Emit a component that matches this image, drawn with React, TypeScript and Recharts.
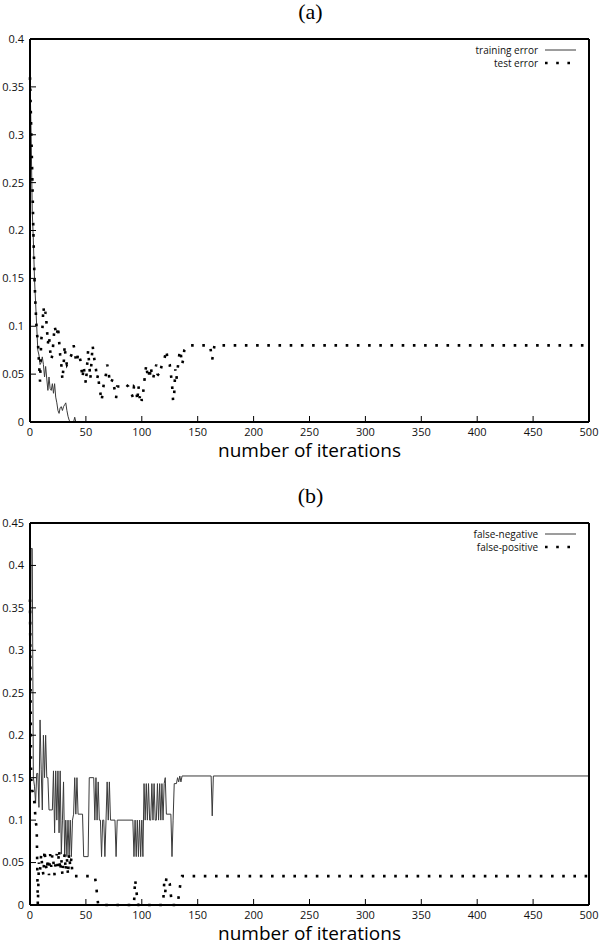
import { Line, LineChart, XAxis, YAxis } from "recharts";

// iteration ticks shared by both panels
const iterTicks = [0, 50, 100, 150, 200, 250, 300, 350, 400, 450, 500];
const errTicksA = [0, 0.05, 0.1, 0.15, 0.2, 0.25, 0.3, 0.35, 0.4];
const errTicksB = [0, 0.05, 0.1, 0.15, 0.2, 0.25, 0.3, 0.35, 0.4, 0.45];

// panel (a): [iteration, error]
const trainingError: [number, number][] = [
  [0, 0.36], [1, 0.3], [2, 0.22], [3, 0.19], [4, 0.15], [5, 0.125], [6, 0.1], [7, 0.075],
  [8, 0.07], [9, 0.06], [10, 0.062], [11, 0.068], [12, 0.06], [13, 0.047], [14, 0.058],
  [15, 0.045], [16, 0.033], [17, 0.047], [18, 0.035], [19, 0.033], [20, 0.04], [21, 0.03],
  [22, 0.04], [23, 0.026], [24, 0.02], [25, 0.012], [26, 0.009], [27, 0.015], [28, 0.016],
  [29, 0.012], [30, 0.016], [31, 0.018], [32, 0.02], [33, 0.012], [34, 0.006], [35, 0.002],
  [36, 0], [39, 0], [40, 0.005], [41, 0], [500, 0],
];

const testError: [number, number][] = [
  [0, 0.36], [1, 0.31], [2, 0.26], [3, 0.2], [4, 0.15], [5, 0.12], [6, 0.095], [7, 0.085],
  [8, 0.063], [9, 0.042], [10, 0.085], [11, 0.095], [12, 0.12], [13, 0.11], [14, 0.115],
  [15, 0.1], [16, 0.082], [17, 0.09], [18, 0.075], [19, 0.065], [20, 0.07], [21, 0.085],
  [22, 0.1], [23, 0.095], [24, 0.09], [25, 0.1], [26, 0.085], [27, 0.07], [28, 0.06],
  [29, 0.044], [30, 0.058], [31, 0.08], [32, 0.065], [33, 0.06], [35, 0.065], [37, 0.07],
  [39, 0.08], [40, 0.075], [41, 0.065], [42, 0.062], [43, 0.072], [45, 0.065], [47, 0.046],
  [48, 0.058], [50, 0.04], [52, 0.075], [53, 0.06], [54, 0.045], [56, 0.08], [57, 0.07],
  [58, 0.062], [59, 0.055], [60, 0.045], [61, 0.05], [62, 0.035], [63, 0.03], [64, 0.022],
  [65, 0.03], [66, 0.04], [68, 0.05], [69, 0.06], [70, 0.055], [71, 0.045], [72, 0.04],
  [74, 0.045], [77, 0.025], [78, 0.037], [82, 0.037], [85, 0.04], [88, 0.037], [92, 0.026],
  [93, 0.037], [95, 0.035], [96, 0.022], [97, 0.038], [98, 0.025], [99, 0.03], [100, 0.022],
  [101, 0.028], [102, 0.04], [103, 0.05], [104, 0.06], [105, 0.05], [106, 0.055],
  [107, 0.045], [108, 0.058], [109, 0.05], [110, 0.045], [112, 0.055], [113, 0.06],
  [114, 0.05], [116, 0.048], [117, 0.055], [118, 0.06], [120, 0.065], [122, 0.075],
  [123, 0.065], [125, 0.06], [126, 0.05], [127, 0.04], [128, 0.022], [129, 0.03],
  [130, 0.055], [131, 0.045], [133, 0.065], [134, 0.075], [135, 0.07], [136, 0.06],
  [137, 0.065], [138, 0.075], [141, 0.08], [161, 0.08], [163, 0.065], [165, 0.08], [500, 0.08],
];

// panel (b)
const falseNegative: [number, number][] = [
  [0, 0.15], [1, 0.42], [2, 0.42], [3, 0.15], [4, 0.14], [5, 0.12], [6, 0.155], [7, 0.155],
  [8, 0.115], [9, 0.218], [10, 0.16], [11, 0.112], [12, 0.2], [13, 0.15], [14, 0.2],
  [15, 0.15], [16, 0.15], [17, 0.112], [20, 0.112], [21, 0.158], [22, 0.085], [23, 0.158],
  [24, 0.1], [25, 0.158], [26, 0.085], [27, 0.158], [28, 0.06], [29, 0.1], [30, 0.145],
  [31, 0.057], [32, 0.1], [33, 0.057], [34, 0.1], [35, 0.057], [36, 0.1], [37, 0.057],
  [38, 0.1], [39, 0.107], [40, 0.15], [41, 0.107], [42, 0.15], [43, 0.107], [47, 0.107],
  [48, 0.057], [52, 0.057], [53, 0.15], [57, 0.15], [58, 0.1], [59, 0.15], [60, 0.1],
  [61, 0.145], [62, 0.1], [63, 0.1], [64, 0.057], [65, 0.1], [66, 0.1], [67, 0.057],
  [68, 0.1], [69, 0.145], [70, 0.1], [71, 0.145], [72, 0.1], [76, 0.1], [77, 0.057],
  [78, 0.1], [92, 0.1], [93, 0.057], [94, 0.1], [95, 0.057], [96, 0.1], [97, 0.057],
  [98, 0.1], [99, 0.057], [100, 0.1], [101, 0.057], [102, 0.143], [103, 0.1], [104, 0.143],
  [105, 0.1], [106, 0.143], [107, 0.1], [108, 0.1], [109, 0.143], [110, 0.1], [111, 0.143],
  [112, 0.1], [113, 0.1], [114, 0.143], [115, 0.1], [116, 0.143], [117, 0.1], [118, 0.143],
  [119, 0.1], [120, 0.143], [121, 0.15], [122, 0.107], [126, 0.107], [127, 0.057],
  [128, 0.1], [129, 0.143], [131, 0.143], [132, 0.15], [133, 0.145], [134, 0.152],
  [135, 0.145], [136, 0.152], [162, 0.152], [163, 0.105], [164, 0.152], [500, 0.152],
];

const falsePositive: [number, number][] = [
  [0, 0.36], [1, 0.15], [2, 0.135], [3, 0.13], [4, 0.12], [5, 0.1], [6, 0.09], [7, 0],
  [8, 0.05], [9, 0.04], [10, 0.06], [11, 0.045], [12, 0.035], [13, 0.065], [14, 0.05],
  [15, 0.04], [16, 0.055], [17, 0.035], [18, 0.06], [19, 0.045], [20, 0.06], [21, 0.05],
  [22, 0.035], [23, 0.055], [24, 0.06], [25, 0.045], [26, 0.065], [27, 0.04], [28, 0.055],
  [29, 0.035], [30, 0.05], [31, 0.06], [32, 0.04], [33, 0.055], [34, 0.035], [35, 0.06],
  [36, 0.045], [37, 0.055], [38, 0.035], [40, 0.034], [58, 0.034], [59, 0.025], [60, 0.012],
  [61, 0], [93, 0], [94, 0.03], [95, 0.02], [96, 0.005], [97, 0], [119, 0], [120, 0.025],
  [121, 0.015], [122, 0.033], [125, 0.025], [126, 0.012], [127, 0], [132, 0], [133, 0.01],
  [134, 0.02], [135, 0.03], [136, 0.034], [500, 0.034],
];

const toRows = (pts: [number, number][]) => pts.map(([x, y]) => ({ x, y }));

const SANS = "'Open Sans', 'DejaVu Sans', sans-serif";
const SERIF = "'Liberation Serif', 'DejaVu Serif', serif";
const tickFont = { fontSize: 11, fill: "#111", fontFamily: SANS };
const frame = { stroke: "#000", strokeWidth: 2 };
const tickLn = { stroke: "#000", strokeWidth: 1 };

const DOTTED = { stroke: "#000", strokeWidth: 2.6, strokeDasharray: "2.6 8.6" };
const SOLID = { stroke: "#3a3a3a", strokeWidth: 1 };

interface PanelProps {
  top: number;
  height: number;
  plotTop: number;
  plotBottom: number;
  yMax: number;
  yTicks: number[];
  solid: [number, number][];
  dotted: [number, number][];
  title: string;
  solidName: string;
  dottedName: string;
}

const Panel = (p: PanelProps) => {
  const axisH = p.height - p.plotBottom;
  return (
    <div style={{ position: "absolute", left: 0, top: p.top, width: 600, height: p.height }}>
      <LineChart width={600} height={p.height} margin={{ top: p.plotTop - 1, right: 10, left: 0, bottom: 0 }}>
        <XAxis
          xAxisId="b"
          type="number"
          dataKey="x"
          domain={[0, 500]}
          ticks={iterTicks}
          height={axisH}
          axisLine={frame}
          tickLine={tickLn}
          tickSize={-6}
          tickMargin={12}
          tick={tickFont}
        />
        <XAxis
          xAxisId="t"
          orientation="top"
          type="number"
          dataKey="x"
          domain={[0, 500]}
          ticks={iterTicks}
          height={1}
          axisLine={frame}
          tickLine={tickLn}
          tickSize={-6}
          tick={false}
        />
        <YAxis
          yAxisId="l"
          type="number"
          domain={[0, p.yMax]}
          ticks={p.yTicks}
          width={30}
          axisLine={frame}
          tickLine={tickLn}
          tickSize={-6}
          tickMargin={12}
          tick={tickFont}
        />
        <YAxis
          yAxisId="r"
          orientation="right"
          type="number"
          domain={[0, p.yMax]}
          ticks={p.yTicks}
          width={1}
          axisLine={frame}
          tickLine={tickLn}
          tickSize={-6}
          tick={false}
        />
        <Line
          xAxisId="b"
          yAxisId="l"
          data={toRows(p.solid)}
          dataKey="y"
          type="linear"
          dot={false}
          {...SOLID}
          isAnimationActive={false}
        />
        <Line
          xAxisId="b"
          yAxisId="l"
          data={toRows(p.dotted)}
          dataKey="y"
          type="linear"
          dot={false}
          {...DOTTED}
          isAnimationActive={false}
        />
      </LineChart>
      <div
        style={{
          position: "absolute", left: 0, width: 621, top: p.plotTop - 40, height: 26,
          textAlign: "center", fontFamily: SERIF, fontSize: 22, lineHeight: "26px",
        }}
      >
        {p.title}
      </div>
      <div
        style={{
          position: "absolute", left: 0, width: 619, top: p.plotBottom + 17, height: 22,
          textAlign: "center", fontFamily: SANS, fontSize: 19, lineHeight: "22px",
        }}
      >
        number of iterations
      </div>
      <div
        style={{
          position: "absolute", right: 62, top: p.plotTop + 5, textAlign: "right",
          fontFamily: SANS, fontSize: 10, lineHeight: "13px", color: "#111",
        }}
      >
        <div style={{ height: 13 }}>{p.solidName}</div>
        <div style={{ height: 13 }}>{p.dottedName}</div>
      </div>
      <svg style={{ position: "absolute", left: 544, top: p.plotTop + 5 }} width={36} height={26}>
        <line x1={1} y1={6} x2={32} y2={6} {...SOLID} />
        <line x1={1} y1={19} x2={32} y2={19} {...DOTTED} />
      </svg>
    </div>
  );
};

export default function App() {
  return (
    <div style={{ position: "absolute", left: 0, top: 0, width: 600, height: 952, background: "#fff" }}>
      <Panel
        top={0}
        height={460}
        plotTop={39}
        plotBottom={422}
        yMax={0.4}
        yTicks={errTicksA}
        solid={trainingError}
        dotted={testError}
        title="(a)"
        solidName="training error"
        dottedName="test error"
      />
      <Panel
        top={470}
        height={482}
        plotTop={53}
        plotBottom={435}
        yMax={0.45}
        yTicks={errTicksB}
        solid={falseNegative}
        dotted={falsePositive}
        title="(b)"
        solidName="false-negative"
        dottedName="false-positive"
      />
    </div>
  );
}
